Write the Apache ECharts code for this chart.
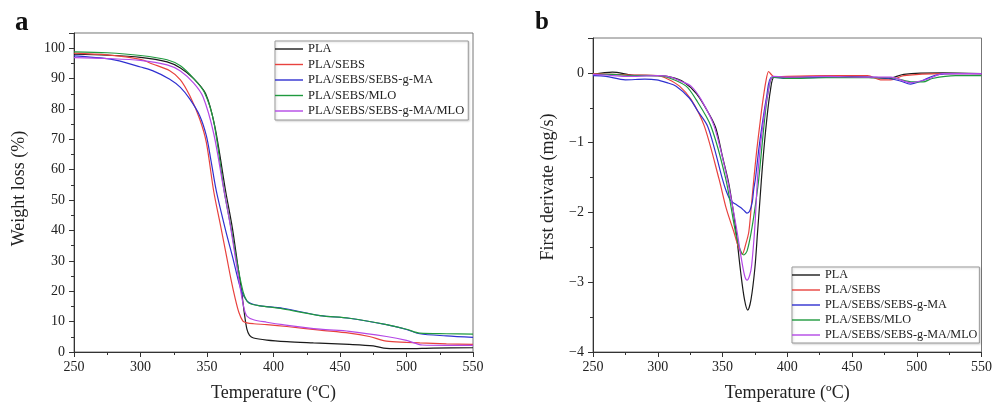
<!DOCTYPE html>
<html>
<head>
<meta charset="utf-8">
<script src="https://cdn.jsdelivr.net/npm/echarts@6/dist/echarts.min.js"></script>
<style>
html,body{margin:0;padding:0;background:#fff;}
#chart{width:995px;height:407px;}
</style>
</head>
<body>
<div id="chart"></div>
<script>
// ---------- Data ----------
const seriesNames = ['PLA', 'PLA/SEBS', 'PLA/SEBS/SEBS-g-MA', 'PLA/SEBS/MLO', 'PLA/SEBS/SEBS-g-MA/MLO'];
const seriesColors = ['#1a1a1a', '#e8423e', '#3030d0', '#1f9a3e', '#b448e6'];

// Panel a: weight loss (%) vs temperature (ºC)
const aPLA_T = [250, 275, 300, 320, 330, 340, 349, 356, 364, 369, 373, 376, 378, 380, 382, 385, 395, 410, 430, 457, 475, 485, 500, 520, 550];
const aPLA_W = [98.0, 97.7, 97.0, 95.5, 93.5, 90, 85, 74, 53, 41, 29, 20, 13, 7.5, 5.5, 4.6, 3.9, 3.4, 3.0, 2.5, 2.0, 1.2, 1.1, 1.3, 1.4];

const aSEBS_T = [250, 275, 300, 309, 322, 330, 337, 344.5, 349.5, 355, 360, 365, 368, 371, 374, 377, 380, 385, 395, 410, 435, 457, 472, 485, 500, 510, 530, 550];
const aSEBS_W = [98.4, 97.8, 96.3, 94.8, 92.6, 89.6, 84.4, 76.7, 69, 53, 42, 30.8, 24, 18, 13, 10.2, 9.6, 9.3, 9.0, 8.4, 7.2, 6.2, 5.1, 3.6, 3.2, 3.0, 2.7, 2.5];

const aGMA_T = [250, 270, 284, 300, 309, 322, 330, 337, 344.5, 349.5, 353, 357, 364, 369.5, 373, 376, 380, 384, 390, 407, 435, 457, 485, 500, 510, 530, 550];
const aGMA_W = [97.5, 96.8, 95.8, 93.8, 92.6, 89.8, 87.1, 83.3, 77.8, 71.2, 63, 53, 40, 30.8, 24.5, 20, 16.8, 15.8, 15.2, 14.4, 12.0, 11.1, 9.0, 7.4, 6.0, 5.3, 4.8];

const aMLO_T = [250, 275, 300, 320, 330, 340, 348, 355, 363, 368, 372, 377, 380, 383, 390, 407, 435, 457, 485, 500, 510, 530, 550];
const aMLO_W = [98.8, 98.5, 97.6, 96.2, 94.2, 90, 85.5, 76, 52.7, 41, 30.8, 20, 16.8, 15.8, 15.2, 14.2, 12.0, 11.1, 9.0, 7.5, 6.2, 6.0, 5.9];

const aGMAMLO_T = [250, 275, 300, 320, 330, 340, 347, 355, 362, 367, 371, 375, 378, 380, 385, 395, 407, 435, 457, 485, 500, 512, 530, 550];
const aGMAMLO_W = [96.9, 96.6, 96.0, 94.5, 92.5, 88.5, 84, 72, 55, 43, 32, 21, 14, 11.8, 10.6, 9.8, 9.0, 7.5, 6.8, 5.1, 3.8, 2.3, 2.2, 2.2];

// Panel b: first derivate (mg/s) vs temperature (ºC)
const bPLA_T = [250, 265, 280, 300, 310, 320, 330, 340, 345, 350, 355, 360, 364, 367, 369.5, 372, 375, 377, 379, 381, 384, 387, 390, 400, 430, 460, 478, 490, 520, 550];
const bPLA_D = [-0.02, 0.01, -0.03, -0.04, -0.06, -0.13, -0.3, -0.6, -0.8, -1.2, -1.6, -2.2, -2.85, -3.25, -3.40, -3.25, -2.8, -2.3, -1.8, -1.3, -0.7, -0.25, -0.06, -0.06, -0.05, -0.06, -0.08, -0.02, 0, -0.01];

const bSEBS_T = [250, 265, 280, 300, 308, 316.8, 325.7, 335.9, 347.3, 353, 358.8, 362, 365.2, 368, 370.3, 372.3, 374.2, 376.5, 378.7, 381, 383.5, 385.6, 387.5, 390, 400, 430, 462, 472, 480, 490, 520, 550];
const bSEBS_D = [-0.01, -0.02, -0.03, -0.04, -0.09, -0.19, -0.38, -0.76, -1.52, -1.95, -2.28, -2.48, -2.6, -2.45, -2.28, -1.9, -1.52, -1.1, -0.76, -0.42, -0.12, 0.02, -0.02, -0.06, -0.05, -0.04, -0.04, -0.1, -0.1, -0.04, -0.01, -0.01];

const bGMA_T = [250, 260, 275, 290, 299, 307, 314.2, 324.4, 331, 338.4, 344, 349.9, 353, 356.3, 360, 364, 367, 369, 371, 373, 374.1, 375.4, 378, 380.5, 384, 388, 400, 430, 460, 478, 488, 495, 503, 515, 530, 550];
const bGMA_D = [-0.04, -0.05, -0.1, -0.09, -0.1, -0.14, -0.19, -0.36, -0.55, -0.76, -1.1, -1.52, -1.7, -1.83, -1.88, -1.93, -1.98, -2.01, -1.98, -1.85, -1.67, -1.52, -1.1, -0.76, -0.35, -0.06, -0.08, -0.06, -0.06, -0.08, -0.12, -0.16, -0.12, -0.03, -0.01, -0.01];

const bMLO_T = [250, 265, 280, 300, 310, 321.9, 329.5, 341, 352.5, 360, 363, 366.5, 369, 372, 375, 378, 382, 385, 389, 400, 430, 460, 480, 497, 505, 512, 530, 550];
const bMLO_D = [-0.02, -0.02, -0.04, -0.04, -0.08, -0.19, -0.38, -0.76, -1.52, -2.28, -2.5, -2.61, -2.55, -2.3, -1.95, -1.52, -0.76, -0.3, -0.06, -0.08, -0.07, -0.07, -0.07, -0.13, -0.13, -0.08, -0.04, -0.04];

const bGMAMLO_T = [250, 260, 275, 300, 310, 318, 325.7, 333.4, 343.5, 353.7, 361.3, 364, 367, 369, 371, 372.5, 375, 377, 379, 381.5, 385, 389, 400, 430, 460, 480, 495, 510, 520, 550];
const bGMAMLO_D = [-0.02, -0.03, -0.05, -0.04, -0.06, -0.12, -0.19, -0.38, -0.76, -1.52, -2.28, -2.6, -2.9, -2.97, -2.9, -2.76, -2.2, -1.52, -1.1, -0.7, -0.3, -0.05, -0.06, -0.05, -0.06, -0.06, -0.14, -0.08, -0.01, -0.01];

const xTickLabels = [250, 300, 350, 400, 450, 500, 550];

// ---------- Chart ----------
const FONT = 'Liberation Serif';
const AX = '#333';
const pair = (t, v) => t.map((x, i) => [x, v[i]]);

const panelA = [[aPLA_T, aPLA_W], [aSEBS_T, aSEBS_W], [aGMA_T, aGMA_W], [aMLO_T, aMLO_W], [aGMAMLO_T, aGMAMLO_W]];
const panelB = [[bPLA_T, bPLA_D], [bSEBS_T, bSEBS_D], [bGMA_T, bGMA_D], [bMLO_T, bMLO_D], [bGMAMLO_T, bGMAMLO_D]];

function xAxisFor(gridIndex) {
  return {
    type: 'value', gridIndex: gridIndex,
    min: xTickLabels[0], max: xTickLabels[xTickLabels.length - 1], interval: 50,
    name: 'Temperature (ºC)', nameLocation: 'middle', nameGap: 32,
    nameTextStyle: { fontFamily: FONT, fontSize: 18, color: '#222' },
    axisLine: { show: true, onZero: false, lineStyle: { color: AX, width: 1 } },
    axisTick: { show: true, inside: false, length: 5, lineStyle: { color: AX } },
    minorTick: { show: true, splitNumber: 2, length: 3, lineStyle: { color: AX } },
    splitLine: { show: false },
    axisLabel: { fontFamily: FONT, fontSize: 14, color: '#222', margin: 8 }
  };
}

function lineSeries(name, color, data, xi, yi) {
  return {
    type: 'line', name: name, xAxisIndex: xi, yAxisIndex: yi,
    data: data, showSymbol: false, symbol: 'none',
    smooth: 0.3,
    lineStyle: { color: color, width: 1.2 }, itemStyle: { color: color },
    z: 3
  };
}

const series = [];
panelA.forEach((p, i) => series.push(lineSeries(seriesNames[i], seriesColors[i], pair(p[0], p[1]), 0, 0)));
panelB.forEach((p, i) => series.push(lineSeries(seriesNames[i], seriesColors[i], pair(p[0], p[1]), 1, 1)));

const legendBase = {
  orient: 'vertical', itemWidth: 28, itemHeight: 1.4, icon: 'rect',
  borderColor: '#999', borderWidth: 1, backgroundColor: '#fff',
  shadowColor: 'rgba(0,0,0,0.15)', shadowBlur: 2, shadowOffsetX: 1, shadowOffsetY: 1,
  data: seriesNames.slice(), selectedMode: false
};

const option = {
  animation: false,
  backgroundColor: '#fff',
  textStyle: { fontFamily: FONT },
  grid: [
    { left: 74, right: 522, top: 33, bottom: 53, show: true, borderColor: '#777', borderWidth: 1, backgroundColor: 'transparent' },
    { left: 593, right: 10, top: 38, bottom: 53, show: true, borderColor: '#777', borderWidth: 1, backgroundColor: 'transparent' }
  ],
  graphic: [
    { type: 'text', left: 15, top: 10, style: { text: 'a', fontFamily: FONT, fontSize: 27, fontWeight: 'bold', fill: '#111' } },
    { type: 'text', left: 535, top: 10, style: { text: 'b', fontFamily: FONT, fontSize: 25, fontWeight: 'bold', fill: '#111' } }
  ],
  legend: [
    Object.assign({}, legendBase, {
      left: 275, top: 41, padding: [1, 4, 2, 0], itemGap: 1.5,
      textStyle: { fontFamily: FONT, fontSize: 12.5, lineHeight: 14, color: '#222' }
    }),
    Object.assign({}, legendBase, {
      left: 792, top: 267, padding: [1, 2, 1, 0], itemGap: 1,
      textStyle: { fontFamily: FONT, fontSize: 12.2, lineHeight: 14, color: '#222' }
    })
  ],
  xAxis: [xAxisFor(0), xAxisFor(1)],
  yAxis: [
    {
      type: 'value', gridIndex: 0, min: 0, max: 105, interval: 10,
      name: 'Weight loss (%)', nameLocation: 'middle', nameGap: 46, nameRotate: 90,
      nameTextStyle: { fontFamily: FONT, fontSize: 18, color: '#222', padding: [0, 0, 0, 8] },
      axisLine: { show: true, onZero: false, lineStyle: { color: AX } },
      axisTick: { show: true, inside: false, length: 5, lineStyle: { color: AX } },
      minorTick: { show: true, splitNumber: 2, length: 3, lineStyle: { color: AX } },
      splitLine: { show: false },
      axisLabel: { fontFamily: FONT, fontSize: 14, color: '#222', margin: 9, showMaxLabel: false }
    },
    {
      type: 'value', gridIndex: 1, min: -4, max: 0.5, interval: 1,
      name: 'First derivate (mg/s)', nameLocation: 'middle', nameGap: 36, nameRotate: 90,
      nameTextStyle: { fontFamily: FONT, fontSize: 18, color: '#222', padding: [0, 0, 0, 16] },
      axisLine: { show: true, onZero: false, lineStyle: { color: AX } },
      axisTick: { show: true, inside: false, length: 5, lineStyle: { color: AX } },
      minorTick: { show: true, splitNumber: 2, length: 3, lineStyle: { color: AX } },
      splitLine: { show: false },
      axisLabel: {
        fontFamily: FONT, fontSize: 14, color: '#222', margin: 9, showMaxLabel: false,
        formatter: v => (v < 0 ? '\u2212' + Math.abs(v) : String(v))
      }
    }
  ],
  series: series
};

const chart = echarts.init(document.getElementById('chart'), null, { renderer: 'canvas' });
chart.setOption(option);
</script>
</body>
</html>
